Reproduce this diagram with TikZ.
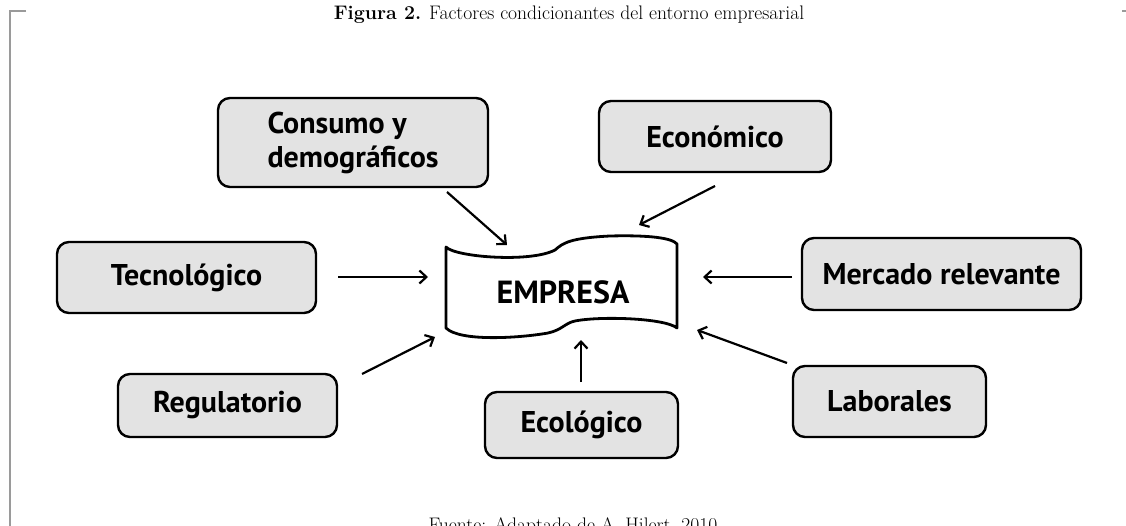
\documentclass[tikz,border=0pt]{standalone}
\usepackage{fontspec}
\newfontfamily\boxfont{PT Sans}
\usetikzlibrary{arrows.meta}
\definecolor{boxgray}{HTML}{E3E3E3}
\definecolor{framegray}{HTML}{9A9A9A}
\tikzset{
  factor/.style={draw=black, line width=2.4pt, fill=boxgray, rounded corners=12pt,
    inner sep=0pt, font=\boxfont\bfseries\fontsize{30}{34}\selectfont},
  link/.style={line width=2.2pt, -{Straight Barb[length=7pt,width=13pt,line width=2.2pt]}},
}
\begin{document}
\begin{tikzpicture}[x=1pt,y=-1pt]
\useasboundingbox (0,0) rectangle (1126,526);
\clip (0,0) rectangle (1126,526);
% frame
\draw[framegray, line width=1.6pt] (26,11) -- (10,11) -- (10,530);
\draw[framegray, line width=1.6pt] (1122,11) -- (1126,11);
% title
\node[anchor=base, font=\fontsize{19.6}{22}\selectfont] (title) at (569,20)
  {\textbf{Figura 2.} Factores condicionantes del entorno empresarial};
% footer (cut by page edge, as in the source)
\node[anchor=base, font=\fontsize{19.6}{22}\selectfont] (footer) at (573,531)
  {Fuente: Adaptado de A. Hilert, 2010};
% boxes
\node[factor, minimum width=270pt, minimum height=89pt, align=left] (cons) at (353,142.5) {Consumo y\\demográficos};
\node[factor, minimum width=232pt, minimum height=71pt] (econ) at (715,136.5) {Económico};
\node[factor, minimum width=259pt, minimum height=71pt] (tecn) at (186.5,277.5) {Tecnológico};
\node[factor, minimum width=219pt, minimum height=63pt] (regu) at (227.5,405.5) {Regulatorio};
\node[factor, minimum width=279pt, minimum height=72pt] (merc) at (941.5,274) {Mercado relevante};
\node[factor, minimum width=193pt, minimum height=71pt] (labo) at (889.5,401.5) {Laborales};
\node[factor, minimum width=193pt, minimum height=66pt] (ecol) at (581.5,425) {Ecológico};
% empresa banner
\draw[line width=2.8pt, line join=round]
  (446,247) .. controls (455,257) and (530,263) .. (555,250)
  .. controls (563,243) and (570,238) .. (610,236)
  .. controls (650,235) and (672,238) .. (677,244)
  -- (677,328)
  .. controls (665,318) and (600,316) .. (575,321)
  .. controls (565,323) and (562,330) .. (548,333)
  .. controls (520,338) and (460,342) .. (446,328) -- cycle;
\node[font=\boxfont\bfseries\fontsize{32}{36}\selectfont, inner sep=0pt] (emp) at (563,292) {EMPRESA};
% arrow end points
\coordinate (c1) at (447,192); \coordinate (e1) at (507,245);
\coordinate (c2) at (715,186); \coordinate (e2) at (639,225);
\coordinate (c3) at (338,277); \coordinate (e3) at (428,277);
\coordinate (c4) at (362,374); \coordinate (e4) at (435,337);
\coordinate (c5) at (581,382); \coordinate (e5) at (581,340);
\coordinate (c6) at (792,277); \coordinate (e6) at (703,277);
\coordinate (c7) at (787,363); \coordinate (e7) at (697,330);
\draw[link] (c1) -- (e1);
\draw[link] (c2) -- (e2);
\draw[link] (c3) -- (e3);
\draw[link] (c4) -- (e4);
\draw[link] (c5) -- (e5);
\draw[link] (c6) -- (e6);
\draw[link] (c7) -- (e7);
\end{tikzpicture}
\end{document}
